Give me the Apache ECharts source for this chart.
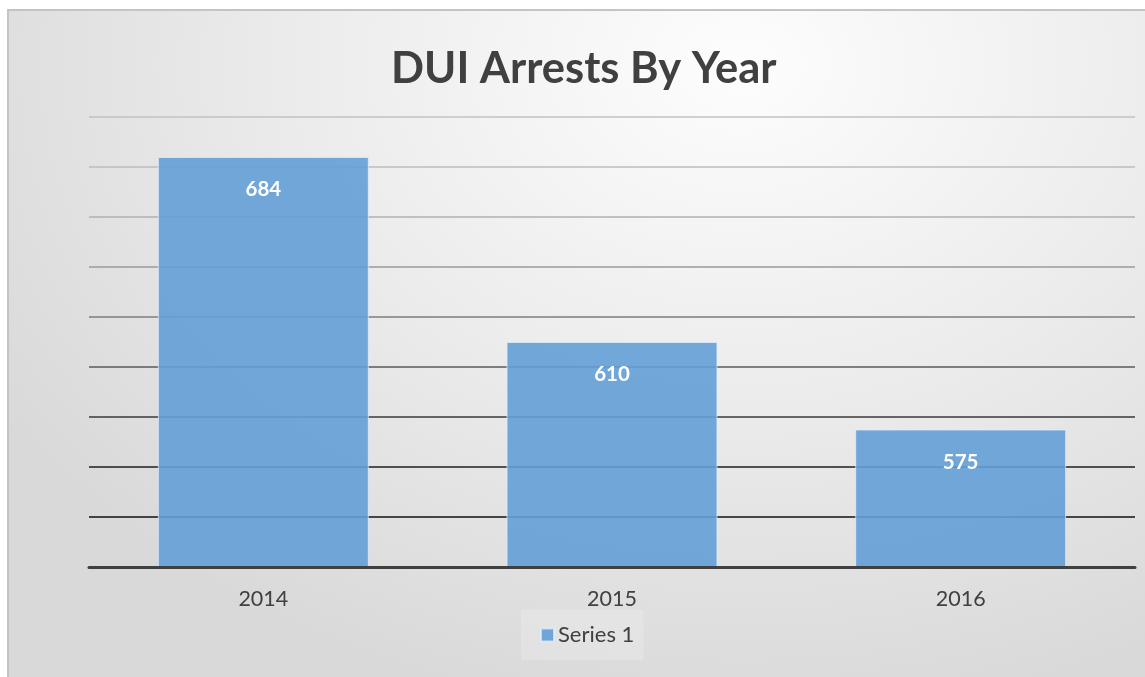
<!DOCTYPE html>
<html>
<head>
<meta charset="utf-8">
<script src="https://cdn.jsdelivr.net/npm/echarts@6/dist/echarts.min.js"></script>
<style>
  html, body { margin: 0; padding: 0; background: #ffffff; overflow: hidden; }
  #frame {
    position: absolute; left: 7px; top: 9px; width: 1160px; height: 690px;
    border: 2px solid #c4c4c4;
    background: radial-gradient(ellipse 75% 95% at 63% 8%, #fdfdfd 0%, #ececec 50%, #d9d9d9 100%);
  }
  #chart { position: absolute; left: 0; top: 0; width: 1145px; height: 677px; }
</style>
</head>
<body>
<div id="frame"></div>
<div id="chart"></div>
<script>
const categories = ['2014', '2015', '2016'];
const seriesName = 'Series 1';
const values = [684, 610, 575];
const titleText = 'DUI Arrests By Year';
const gridColors = ['#404040', '#111111', '#1e1e1e', '#383838', '#5a5a5a', '#7c7c7c', '#9a9a9a', '#b0b0b0', '#bcbcbc', '#c2c2c2'];

const chart = echarts.init(document.getElementById('chart'), null, { renderer: 'canvas' });
chart.setOption({
  backgroundColor: 'transparent',
  animation: false,
  title: {
    text: titleText,
    left: 391,
    top: 47,
    padding: 0,
    textStyle: { fontFamily: 'Lato', fontWeight: 'bold', fontSize: 43.5, color: '#404040' }
  },
  legend: {
    data: [seriesName],
    left: 521,
    top: 610,
    padding: [14, 9, 14, 19],
    backgroundColor: 'rgba(255,255,255,0.18)',
    itemWidth: 13,
    itemHeight: 13,
    icon: 'rect',
    textStyle: { fontFamily: 'Lato', fontSize: 22, color: '#404040', padding: [0, 0, 0, -1] }
  },
  grid: { left: 89, right: 10, top: 117, bottom: 110 },
  xAxis: {
    type: 'category',
    data: categories,
    axisLine: { lineStyle: { color: '#404040', width: 3 } },
    axisTick: { show: false },
    axisLabel: { fontFamily: 'Lato', fontSize: 21.5, color: '#404040', margin: 21 },
    z: 5
  },
  yAxis: {
    type: 'value',
    min: 520,
    max: 700,
    interval: 20,
    axisLabel: { show: false },
    axisLine: { show: false },
    axisTick: { show: false },
    splitLine: { lineStyle: { color: gridColors, width: 1.5 } }
  },
  series: [{
    name: seriesName,
    type: 'bar',
    data: values,
    barWidth: '60.5%',
    itemStyle: { color: 'rgba(100,160,214,0.9)', borderColor: 'rgba(230,240,255,0.7)', borderWidth: 1 },
    label: {
      show: true,
      position: 'insideTop',
      distance: 22,
      fontFamily: 'Lato',
      fontWeight: 'bold',
      fontSize: 20.5,
      color: '#ffffff'
    }
  }]
});
</script>
</body>
</html>
